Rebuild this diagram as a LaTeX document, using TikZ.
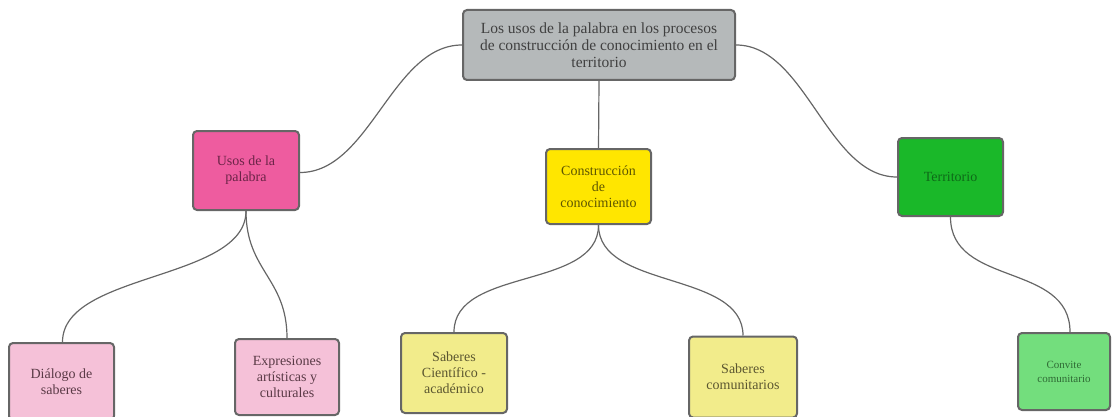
\documentclass[tikz,border=0pt]{standalone}
\usepackage{fontspec}
\setmainfont{Liberation Serif}
\definecolor{rootfill}{HTML}{B5B9BA}
\definecolor{bordc}{HTML}{666666}
\definecolor{pinkA}{HTML}{EE5C9F}
\definecolor{pinkT}{HTML}{6B2447}
\definecolor{yelA}{HTML}{FFE600}
\definecolor{yelT}{HTML}{5E5600}
\definecolor{grnA}{HTML}{1AB829}
\definecolor{grnT}{HTML}{0E6A18}
\definecolor{pinkB}{HTML}{F5C1D8}
\definecolor{pinkBT}{HTML}{5A3A46}
\definecolor{yelB}{HTML}{F2EC8B}
\definecolor{yelBT}{HTML}{5B5630}
\definecolor{grnB}{HTML}{73DE7D}
\definecolor{grnBT}{HTML}{2F6B35}
\tikzset{
  box/.style={draw=bordc, line width=2pt, rounded corners=4pt, align=center, inner sep=2pt, font=\fontsize{14}{16}\selectfont},
  link/.style={draw=bordc, line width=1.2pt},
}
\begin{document}
\begin{tikzpicture}[x=1pt,y=-1pt]
\useasboundingbox (0,0) rectangle (1115,417);
\node[box, fill=rootfill, text=black!75, minimum width=272pt, minimum height=70pt, font=\fontsize{15.5}{17}\selectfont] (root) at (599,45) {Los usos de la palabra en los procesos\\de construcción de conocimiento en el\\territorio};
\node[box, fill=pinkA, text=pinkT, minimum width=106pt, minimum height=79pt] (usos) at (246,170.5) {Usos de la\\palabra};
\node[box, fill=yelA, text=yelT, minimum width=105pt, minimum height=75pt] (cons) at (598.5,186.5) {Construcción\\de\\conocimiento};
\node[box, fill=grnA, text=grnT, minimum width=105pt, minimum height=78pt] (terr) at (950.5,177) {Territorio};
\node[box, fill=pinkB, text=pinkBT, minimum width=105pt, minimum height=77pt] (dial) at (61.5,381.5) {Diálogo de\\saberes};
\node[box, fill=pinkB, text=pinkBT, minimum width=104pt, minimum height=76pt] (expr) at (287,377) {Expresiones\\artísticas y\\culturales};
\node[box, fill=yelB, text=yelBT, minimum width=106pt, minimum height=80pt] (cien) at (454,373) {Saberes\\Científico -\\académico};
\node[box, fill=yelB, text=yelBT, minimum width=108pt, minimum height=81pt] (comu) at (743,377) {Saberes\\comunitarios};
\node[box, fill=grnB, text=grnBT, minimum width=92pt, minimum height=77pt, font=\fontsize{11}{14}\selectfont] (conv) at (1064,371.5) {Convite\\comunitario};
\draw[link] (root.west) .. controls +(-70,0) and +(70,0) .. ([yshift=-2pt]usos.east);
\draw[link] (root.south) -- (cons.north);
\draw[link] (root.east) .. controls +(70,0) and +(-70,0) .. (terr.west);
\draw[link] (usos.south) .. controls +(0,70) and +(0,-70) .. ([xshift=1pt]dial.north);
\draw[link] (usos.south) .. controls +(0,60) and +(0,-60) .. (expr.north);
\draw[link] (cons.south) .. controls +(0,65) and +(0,-65) .. (cien.north);
\draw[link] (cons.south) .. controls +(0,65) and +(0,-65) .. (comu.north);
\draw[link] (terr.south) .. controls +(0,70) and +(0,-70) .. ([xshift=6pt]conv.north);
\end{tikzpicture}
\end{document}
